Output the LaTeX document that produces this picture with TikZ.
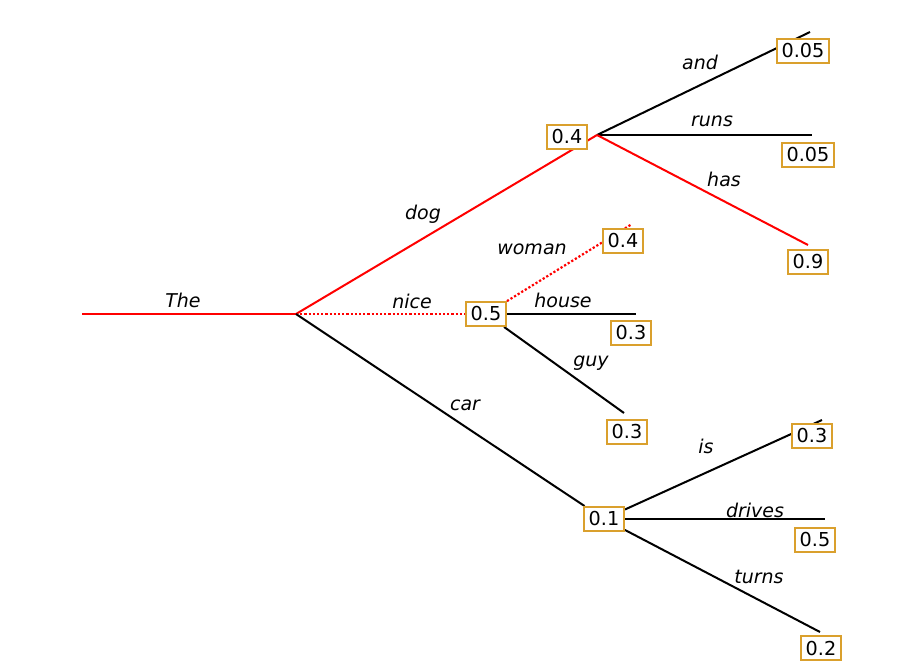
\documentclass[tikz,border=0pt]{standalone}
\usepackage{fontspec}
\setmainfont{DejaVu Sans}
\usetikzlibrary{backgrounds}
\definecolor{probgold}{RGB}{218,160,45}
\tikzset{
  prob/.style={rectangle, draw=probgold, line width=0.9pt, fill=white,
    inner sep=2.4pt, minimum height=12pt, font=\fontsize{9.6}{11}\selectfont},
  word/.style={font=\fontsize{9.5}{11}\selectfont\itshape, inner sep=0pt},
  best/.style={draw=red, line width=1pt},
  other/.style={draw=black, line width=1pt},
  maybe/.style={draw=red, line width=1.1pt, densely dotted},
}
\begin{document}
\begin{tikzpicture}[x=0.5pt, y=-0.5pt]
  \useasboundingbox (0,0) rectangle (910,670);

  % branch points and free ends
  \coordinate (start) at (82,314);
  \coordinate (root) at (296,314);
  \coordinate (bdog) at (597,135);
  \coordinate (eand) at (810,32);
  \coordinate (eruns) at (812,135);
  \coordinate (ehas) at (808,245);
  \coordinate (ewoman) at (632,224);
  \coordinate (ehouse) at (636,314);
  \coordinate (eguy) at (624,413);
  \coordinate (eis) at (822,420);
  \coordinate (edrives) at (825,519);
  \coordinate (eturns) at (820,632);

  % probability boxes
  \node[prob] (pdog) at (567,137) {0.4};
  \node[prob] (pand) at (803,51) {0.05};
  \node[prob] (pruns) at (808,155) {0.05};
  \node[prob] (phas) at (808,262) {0.9};
  \node[prob] (pnice) at (486,314) {0.5};
  \node[prob] (pwoman) at (623,241) {0.4};
  \node[prob] (phouse) at (631,333) {0.3};
  \node[prob] (pguy) at (627,432) {0.3};
  \node[prob] (pcar) at (604,519) {0.1};
  \node[prob] (pis) at (812,436) {0.3};
  \node[prob] (pdrives) at (815,540) {0.5};
  \node[prob] (pturns) at (821,648) {0.2};

  % words
  \node[word] (wthe) at (183,300) {The};
  \node[word] (wdog) at (423,214) {dog};
  \node[word] (wnice) at (412,301) {nice};
  \node[word] (wcar) at (465,405) {car};
  \node[word] (wand) at (700,62) {and};
  \node[word] (wruns) at (712,121) {runs};
  \node[word] (whas) at (724,179) {has};
  \node[word] (wwoman) at (532,249) {woman};
  \node[word] (whouse) at (563,300) {house};
  \node[word] (wguy) at (591,363) {guy};
  \node[word] (wis) at (706,446) {is};
  \node[word] (wdrives) at (755,510) {drives};
  \node[word] (wturns) at (759,577) {turns};

  % connectors, under the boxes
  \begin{scope}[on background layer]
    \draw[best] (start) -- (root);
    \draw[best] (root) -- (bdog);
    \draw[maybe] (root) -- (pnice);
    \draw[other] (root) -- (pcar);
    \draw[other] (bdog) -- (eand);
    \draw[other] (bdog) -- (eruns);
    \draw[best] (bdog) -- (ehas);
    \draw[maybe] (pnice) -- (ewoman);
    \draw[other] (pnice) -- (ehouse);
    \draw[other] (pnice) -- (eguy);
    \draw[other] (pcar) -- (eis);
    \draw[other] (pcar) -- (edrives);
    \draw[other] (pcar) -- (eturns);
  \end{scope}
\end{tikzpicture}
\end{document}
